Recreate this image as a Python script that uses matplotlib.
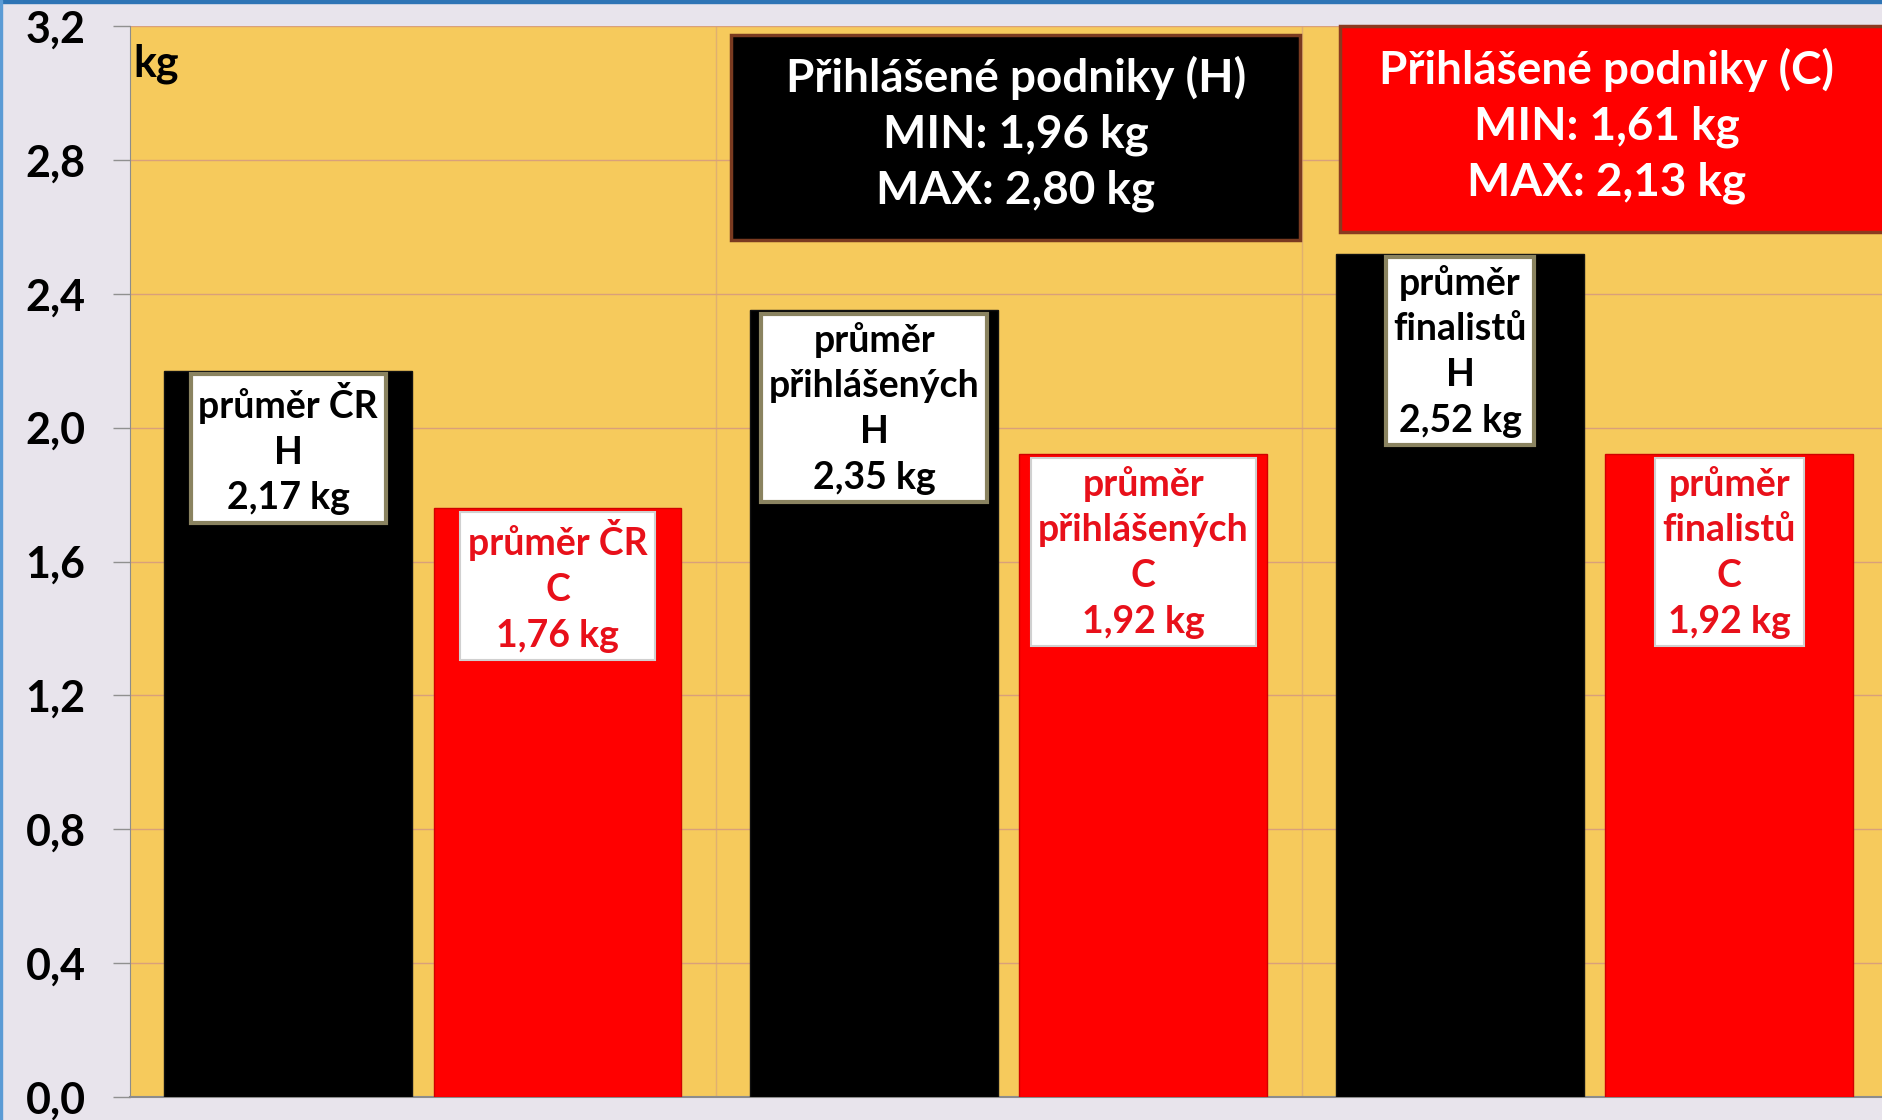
import matplotlib.pyplot as plt
from matplotlib.patches import Rectangle
from matplotlib.ticker import FuncFormatter, MultipleLocator

plt.rcParams['font.family'] = ['Lato', 'DejaVu Sans']
plt.rcParams['font.weight'] = 'bold'

# data
group_names = ['průměr ČR', 'průměr\npřihlášených', 'průměr\nfinalistů']
h_values = [2.17, 2.35, 2.52]
c_values = [1.76, 1.92, 1.92]
h_box = ['Přihlášené podniky (H)', 'MIN: 1,96 kg', 'MAX: 2,80 kg']
c_box = ['Přihlášené podniky (C)', 'MIN: 1,61 kg', 'MAX: 2,13 kg']

def kg(v):
    return f'{v:.2f}'.replace('.', ',') + ' kg'

bg = '#E8E4EC'
plot_bg = '#F6CA5C'
red = '#FF0000'

fig = plt.figure(figsize=(18.82, 11.2), dpi=100, facecolor=bg)
ax = fig.add_axes([130/1882, 23/1120, 1752/1882, 1071/1120])
ax.set_facecolor(plot_bg)

x = list(range(len(h_values)))
w = 0.423
ax.bar([i - 0.23 for i in x], h_values, width=w, color='black', edgecolor='#111111', zorder=3)
ax.bar([i + 0.2295 for i in x], c_values, width=w, color=red, edgecolor='#D00000', zorder=3)

# labels inside bars
for i in x:
    ax.annotate(f'{group_names[i]}\nH\n{kg(h_values[i])}', (i - 0.23, h_values[i]),
                xytext=(0, -8), textcoords='offset points', ha='center', va='top',
                fontsize=27, fontweight='bold', color='black', linespacing=1.42, zorder=5,
                bbox=dict(boxstyle='square,pad=0.2', fc='white', ec='#8A8360', lw=3))
    ax.annotate(f'{group_names[i]}\nC\n{kg(c_values[i])}', (i + 0.2295, c_values[i]),
                xytext=(0, -8), textcoords='offset points', ha='center', va='top',
                fontsize=27, fontweight='bold', color='#E8101A', linespacing=1.42, zorder=5,
                bbox=dict(boxstyle='square,pad=0.2', fc='white', ec='#D0D0D0', lw=1.5))

ax.set_xlim(-0.5, 2.49)
ax.set_ylim(0, 3.2)
ax.yaxis.set_major_locator(MultipleLocator(0.4))
ax.yaxis.set_major_formatter(FuncFormatter(lambda v, p: f'{v:.1f}'.replace('.', ',')))
ax.set_xticks([])
ax.tick_params(axis='y', direction='out', length=12, width=1, color='#909090',
               labelsize=31, pad=20)
for lab in ax.get_yticklabels():
    lab.set_fontweight('bold')

ax.grid(axis='y', color='#D9A07A', lw=1, zorder=1)
for sep in [0.5, 1.5]:
    ax.axvline(sep, color='#E0B070', lw=1, zorder=1)

for s in ['top', 'right']:
    ax.spines[s].set_visible(False)
ax.spines['left'].set_color('#8C8C8C')
ax.spines['bottom'].set_color('#8C8C8C')
ax.spines['bottom'].set_linewidth(1.5)

ax.text(0.002, 0.965, 'kg', transform=ax.transAxes, fontsize=31, fontweight='bold',
        ha='left', va='center', zorder=6)

# summary boxes at the top
ax.add_patch(Rectangle((0.343, 0.8002), 0.325, 0.1914, transform=ax.transAxes,
                       fc='black', ec='#7A3A20', lw=2.5, zorder=6, clip_on=False))
ax.text(0.5057, 0.899, '\n'.join(h_box), transform=ax.transAxes, ha='center', va='center',
        fontsize=33, fontweight='bold', color='white', linespacing=1.4, zorder=7)
ax.add_patch(Rectangle((0.6906, 0.8077), 0.32, 0.1923, transform=ax.transAxes,
                       fc=red, ec='#8A3A20', lw=2.5, zorder=6, clip_on=False))
ax.text(0.843, 0.907, '\n'.join(c_box), transform=ax.transAxes, ha='center', va='center',
        fontsize=33, fontweight='bold', color='white', linespacing=1.4, zorder=7)

# blue frame edges
fig.patches.append(Rectangle((0, 1 - 3/1120), 1, 3/1120, transform=fig.transFigure,
                             color='#2E74B5', zorder=10))
fig.patches.append(Rectangle((0, 0), 2/1882, 1, transform=fig.transFigure,
                             color='#5B9BD5', zorder=10))

fig.savefig('out.png', dpi=100, facecolor=bg)
